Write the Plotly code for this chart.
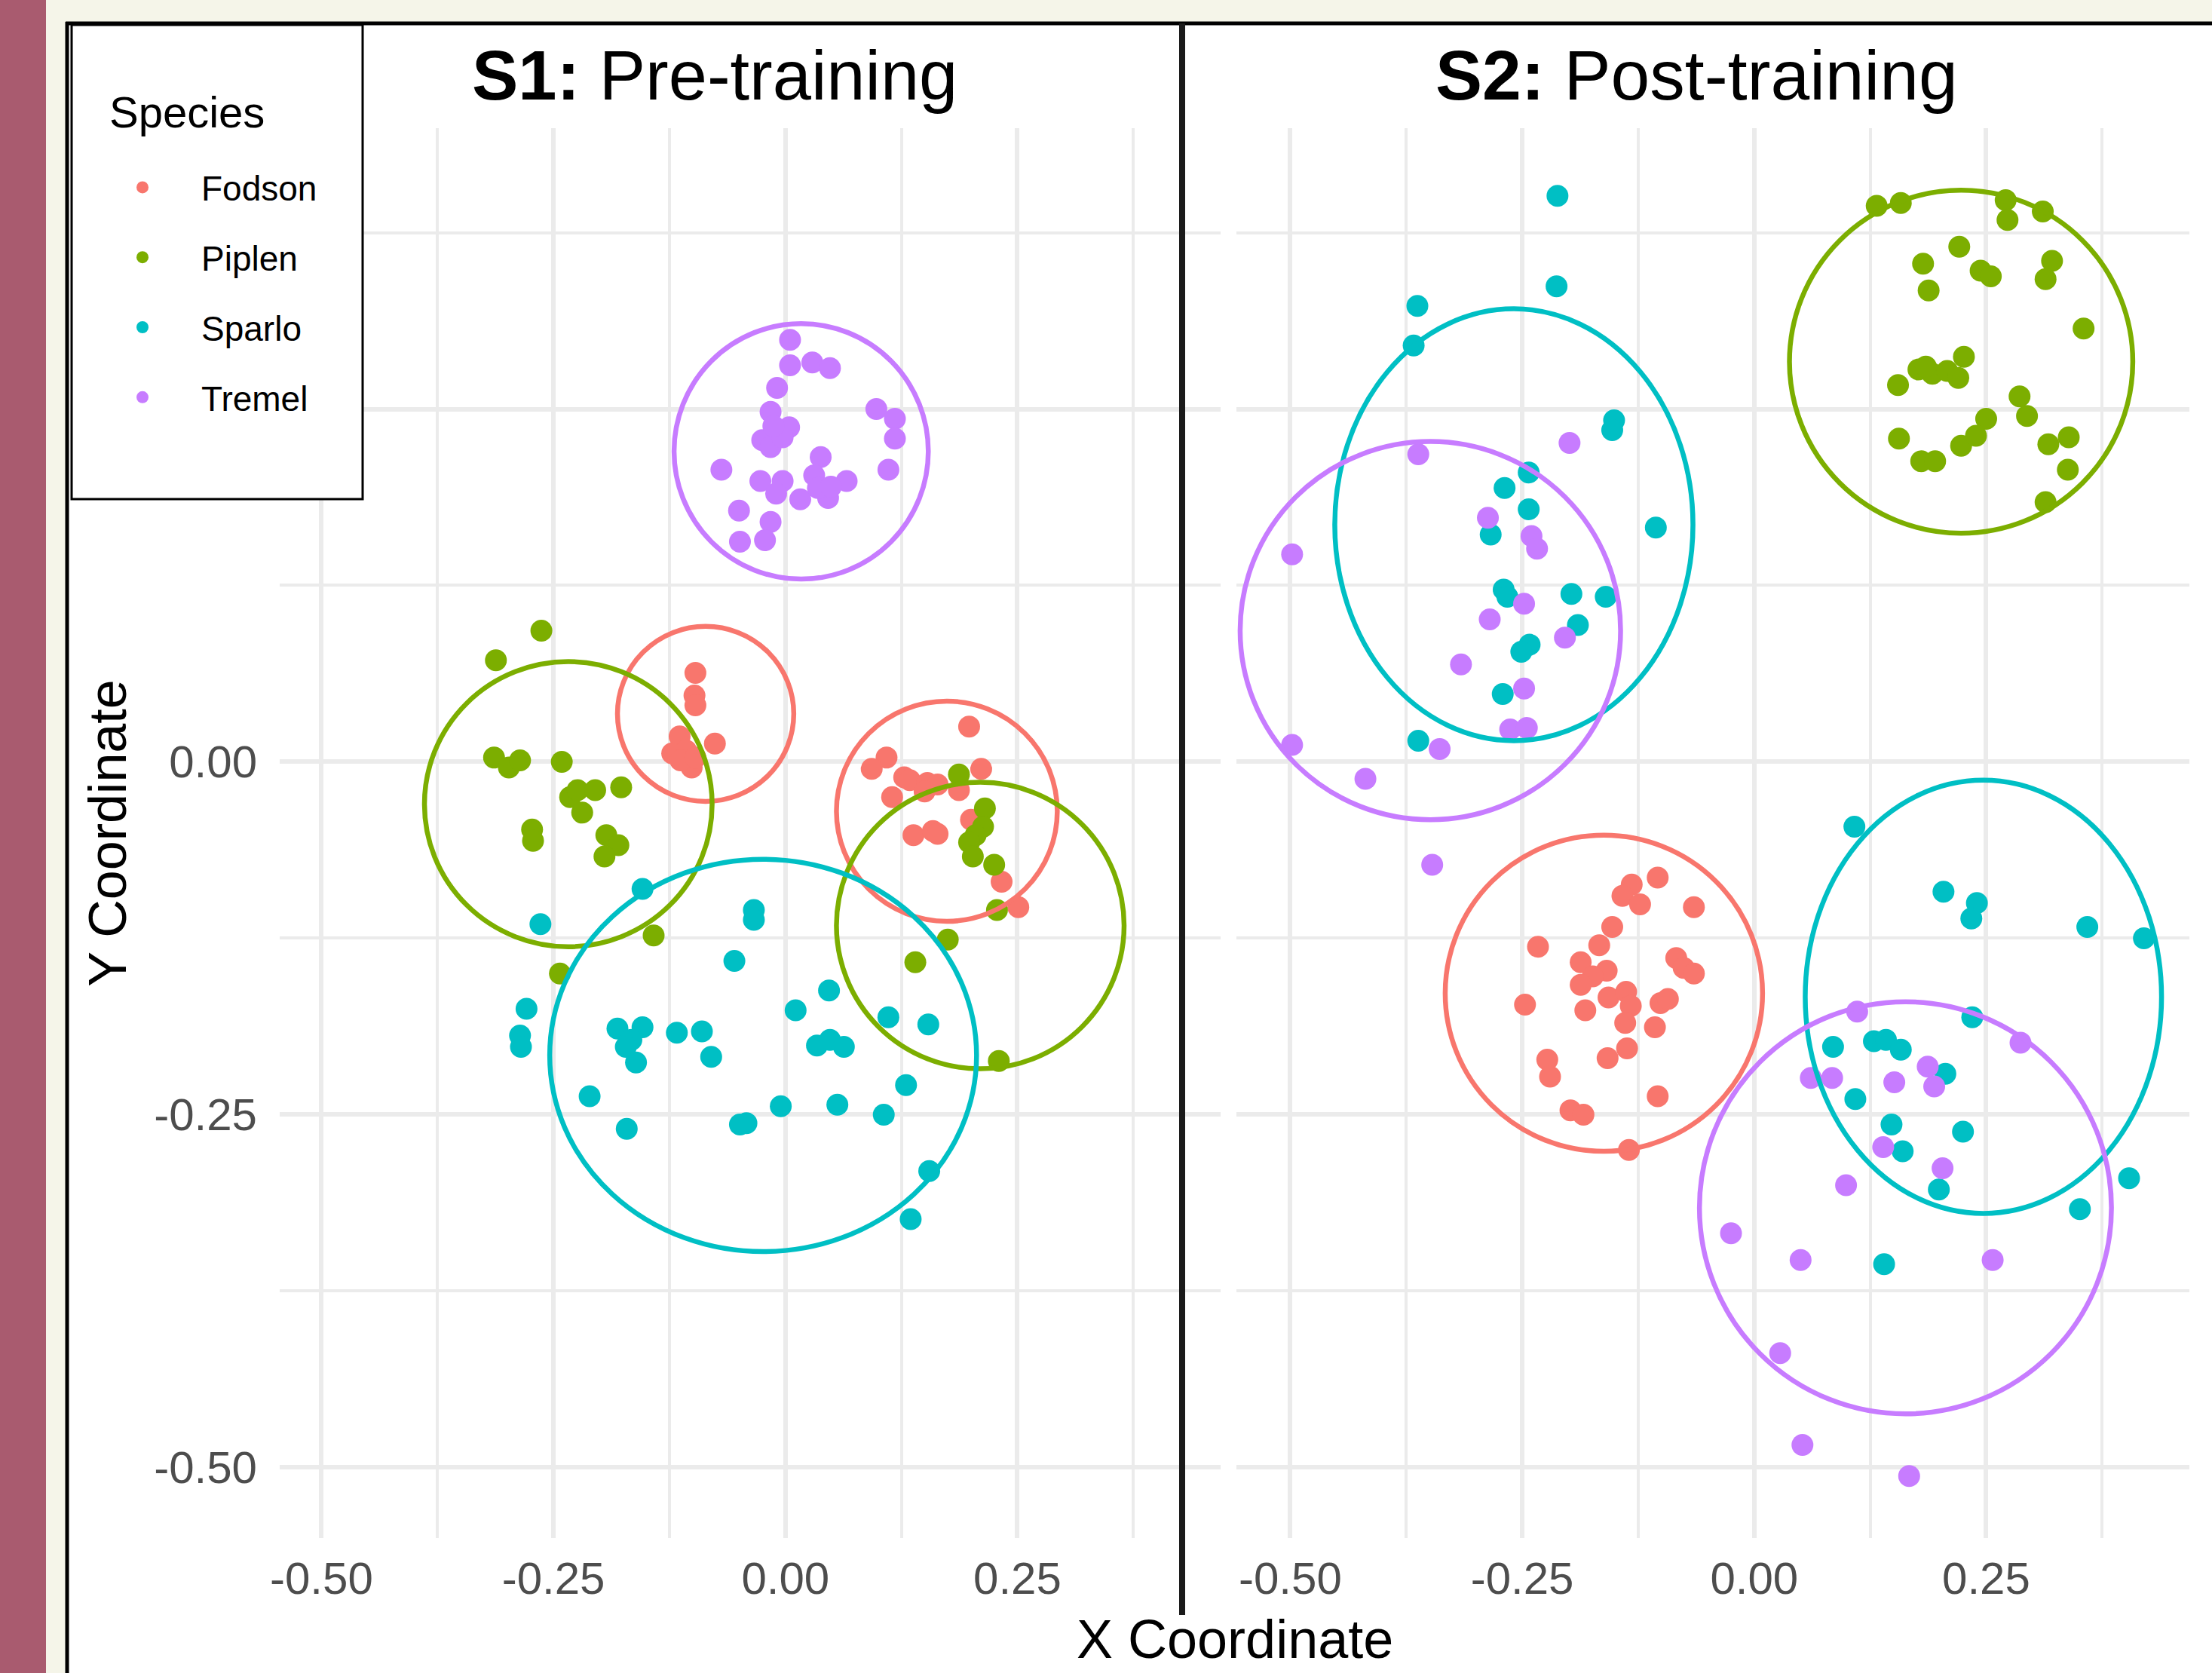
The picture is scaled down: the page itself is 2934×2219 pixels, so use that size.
import plotly.graph_objects as go

# ---------------- data ----------------
SPECIES = ["Fodson", "Piplen", "Sparlo", "Tremel"]
COLORS = ["#F8766D", "#7CAE00", "#00BFC4", "#C77CFF"]
TICK_VALS = [-0.5, -0.25, 0.0, 0.25]
TICK_TEXT = ["-0.50", "-0.25", "0.00", "0.25"]
Y_TICK_TEXT = ["-0.50", "-0.25", "0.00", ""]   # 0.25 label sits under the legend box
MINOR_VALS = [-0.375, -0.125, 0.125, 0.375]

# S1: Pre-training
s1_fodson_x = [-0.097, -0.098, -0.097, -0.076, -0.114, -0.122, -0.107, -0.101, -0.113, -0.097,
               0.198, 0.109, 0.093, 0.128, 0.134, 0.115, 0.153, 0.164, 0.150, 0.187, 0.211,
               0.138, 0.159, 0.164, 0.200, 0.233, 0.251]
s1_fodson_y = [0.063, 0.047, 0.040, 0.013, 0.018, 0.006, 0.008, -0.004, 0.001, 0.003,
               0.025, 0.003, -0.005, -0.011, -0.013, -0.025, -0.015, -0.016, -0.021, -0.020, -0.005,
               -0.052, -0.049, -0.051, -0.041, -0.085, -0.103]

s1_piplen_x = [-0.263, -0.312, -0.314, -0.298, -0.286, -0.241, -0.232, -0.224, -0.205, -0.177,
               -0.219, -0.273, -0.272, -0.193, -0.180, -0.195, -0.142, -0.243,
               0.187, 0.215, 0.213, 0.205, 0.198, 0.202, 0.225, 0.228, 0.175, 0.140, 0.230]
s1_piplen_y = [0.093, 0.072, 0.003, -0.004, 0.001, 0.000, -0.025, -0.020, -0.020, -0.018,
               -0.036, -0.048, -0.056, -0.052, -0.059, -0.067, -0.123, -0.150,
               -0.009, -0.033, -0.046, -0.052, -0.057, -0.067, -0.073, -0.105, -0.126, -0.142, -0.212]

s1_sparlo_x = [-0.154, -0.264, -0.034, -0.034, -0.055, -0.279, -0.286, -0.285, -0.181, -0.154,
               -0.166, -0.172, -0.161, -0.117, -0.090, -0.080, 0.011, 0.047, 0.034, 0.048,
               0.063, 0.111, 0.154, -0.211, -0.171, -0.049, -0.042, -0.005, 0.056, 0.106,
               0.130, 0.155, 0.135]
s1_sparlo_y = [-0.090, -0.115, -0.105, -0.112, -0.141, -0.175, -0.194, -0.202, -0.189, -0.188,
               -0.197, -0.202, -0.213, -0.192, -0.191, -0.209, -0.176, -0.162, -0.201, -0.197,
               -0.202, -0.181, -0.186, -0.237, -0.260, -0.257, -0.256, -0.244, -0.243, -0.250,
               -0.229, -0.290, -0.324]

s1_tremel_x = [0.005, 0.005, 0.029, 0.048, -0.009, -0.016, 0.004, -0.025, -0.016, -0.003,
               -0.013, 0.098, 0.118, 0.118, 0.111, -0.069, -0.027, -0.003, -0.010, 0.038,
               0.031, 0.066, 0.046, 0.016, 0.035, 0.049, -0.050, -0.016, -0.022, -0.049]
s1_tremel_y = [0.299, 0.281, 0.283, 0.279, 0.265, 0.248, 0.237, 0.228, 0.223, 0.230,
               0.238, 0.250, 0.243, 0.229, 0.207, 0.207, 0.199, 0.199, 0.190, 0.216,
               0.203, 0.199, 0.187, 0.186, 0.194, 0.195, 0.178, 0.170, 0.157, 0.156]

# S2: Post-training
s2_fodson_x = [-0.104, -0.132, -0.142, -0.123, -0.065, -0.153, -0.233, -0.167, -0.187, -0.159,
               -0.174, -0.187, -0.084, -0.076, -0.065, -0.247, -0.182, -0.157, -0.138, -0.133,
               -0.139, -0.101, -0.093, -0.107, -0.137, -0.158, -0.223, -0.220, -0.104, -0.198,
               -0.184, -0.135]
s2_fodson_y = [-0.082, -0.087, -0.095, -0.101, -0.103, -0.117, -0.131, -0.130, -0.142, -0.148,
               -0.152, -0.158, -0.139, -0.146, -0.150, -0.172, -0.176, -0.167, -0.163, -0.173,
               -0.185, -0.171, -0.168, -0.188, -0.203, -0.210, -0.211, -0.223, -0.237, -0.247,
               -0.250, -0.275]

s2_piplen_x = [0.132, 0.158, 0.271, 0.273, 0.311, 0.221, 0.182, 0.188, 0.244, 0.255,
               0.321, 0.314, 0.355, 0.155, 0.177, 0.192, 0.208, 0.226, 0.220, 0.185,
               0.286, 0.250, 0.294, 0.156, 0.180, 0.195, 0.223, 0.239, 0.317, 0.339,
               0.338, 0.314]
s2_piplen_y = [0.394, 0.396, 0.398, 0.384, 0.390, 0.365, 0.353, 0.334, 0.348, 0.344,
               0.355, 0.342, 0.307, 0.267, 0.278, 0.275, 0.277, 0.287, 0.272, 0.280,
               0.259, 0.243, 0.245, 0.229, 0.213, 0.213, 0.224, 0.231, 0.225, 0.230,
               0.207, 0.184]

s2_sparlo_x = [-0.212, -0.213, -0.363, -0.367, -0.151, -0.153, -0.243, -0.269, -0.243, -0.284,
               -0.106, -0.270, -0.266, -0.197, -0.160, -0.190, -0.242, -0.251, -0.271, -0.362,
               0.108, 0.204, 0.240, 0.234, 0.359, 0.420, 0.235, 0.085, 0.129, 0.142,
               0.158, 0.206, 0.109, 0.148, 0.225, 0.160, 0.199, 0.404, 0.351, 0.140]
s2_sparlo_y = [0.401, 0.337, 0.323, 0.295, 0.242, 0.235, 0.205, 0.194, 0.179, 0.161,
               0.166, 0.122, 0.117, 0.119, 0.117, 0.097, 0.083, 0.078, 0.048, 0.015,
               -0.046, -0.092, -0.100, -0.111, -0.117, -0.125, -0.181, -0.202, -0.198, -0.197,
               -0.204, -0.221, -0.239, -0.257, -0.262, -0.276, -0.303, -0.295, -0.317, -0.356]

s2_tremel_x = [-0.199, -0.362, -0.287, -0.498, -0.240, -0.234, -0.248, -0.285, -0.204, -0.316,
               -0.248, -0.263, -0.245, -0.498, -0.339, -0.419, -0.347,
               0.111, 0.287, 0.061, 0.084, 0.151, 0.187, 0.194, 0.139, 0.203, 0.099,
               -0.025, 0.050, 0.257, 0.028, 0.052, 0.167]
s2_tremel_y = [0.226, 0.218, 0.173, 0.147, 0.160, 0.151, 0.112, 0.101, 0.088, 0.069,
               0.052, 0.023, 0.024, 0.012, 0.009, -0.012, -0.073,
               -0.177, -0.199, -0.224, -0.224, -0.227, -0.216, -0.230, -0.273, -0.288, -0.300,
               -0.334, -0.353, -0.353, -0.419, -0.484, -0.506]

# cluster ellipses: session, species, centre and semi-axes in data units
ell_session = ["S1", "S1", "S1", "S1", "S1", "S1", "S2", "S2", "S2", "S2", "S2", "S2"]
ell_species = ["Tremel", "Fodson", "Piplen", "Fodson", "Piplen", "Sparlo",
               "Piplen", "Sparlo", "Tremel", "Fodson", "Sparlo", "Tremel"]
ell_cx = [0.017, -0.086, -0.234, 0.174, 0.210, -0.024, 0.223, -0.259, -0.349, -0.162, 0.247, 0.163]
ell_cy = [0.220, 0.034, -0.030, -0.035, -0.116, -0.208, 0.2835, 0.168, 0.093, -0.164, -0.1665, -0.316]
ell_rx = [0.137, 0.095, 0.155, 0.119, 0.155, 0.230, 0.185, 0.193, 0.205, 0.171, 0.192, 0.222]
ell_ry = [0.0905, 0.062, 0.101, 0.078, 0.1015, 0.139, 0.1215, 0.153, 0.134, 0.112, 0.1535, 0.146]

TITLES = ["<b>S1:</b> Pre-training", "<b>S2:</b> Post-training"]

# ---------------- layout geometry (pixels of the 2934x2219 canvas) ----------------
W, H = 2934, 2219
def px(x):
    return x / W
def py(y):
    return 1 - y / H

SCALE = 1248 / 1.014                     # pixels per data unit along x
XDOM1 = [px(371), px(1619)]
XDOM2 = [px(1640), px(2904)]
YDOM = [py(2040), py(170)]
XRANGE1 = [-0.545, 0.469]
XRANGE2 = [-0.545 - 16 / SCALE, 0.469]
YRANGE = [-0.550, 0.449]

FONT = "Liberation Sans, Arial, Helvetica, sans-serif"
GRID = "#EBEBEB"

fig = go.Figure()

data = {
    "S1": [(s1_fodson_x, s1_fodson_y), (s1_piplen_x, s1_piplen_y),
           (s1_sparlo_x, s1_sparlo_y), (s1_tremel_x, s1_tremel_y)],
    "S2": [(s2_fodson_x, s2_fodson_y), (s2_piplen_x, s2_piplen_y),
           (s2_sparlo_x, s2_sparlo_y), (s2_tremel_x, s2_tremel_y)],
}
for session, xa in (("S1", "x"), ("S2", "x2")):
    for i, sp in enumerate(SPECIES):
        xs, ys = data[session][i]
        fig.add_trace(go.Scatter(
            x=xs, y=ys, mode="markers", name=sp,
            legendgroup=sp, showlegend=(session == "S1"),
            marker=dict(color=COLORS[i], size=29, line=dict(width=0)),
            xaxis=xa, yaxis="y",
        ))

shapes = []
# background pieces
shapes.append(dict(type="rect", xref="paper", yref="paper", x0=0, x1=px(61), y0=0, y1=1,
                   fillcolor="#A95B6F", line=dict(width=0), layer="below"))
shapes.append(dict(type="rect", xref="paper", yref="paper", x0=px(89), x1=1, y0=0, y1=py(31),
                   fillcolor="white", line=dict(width=0), layer="below"))

# ellipses
for k in range(len(ell_cx)):
    xref = "x" if ell_session[k] == "S1" else "x2"
    col = COLORS[SPECIES.index(ell_species[k])]
    shapes.append(dict(type="circle", xref=xref, yref="y",
                       x0=ell_cx[k] - ell_rx[k], x1=ell_cx[k] + ell_rx[k],
                       y0=ell_cy[k] - ell_ry[k], y1=ell_cy[k] + ell_ry[k],
                       line=dict(color=col, width=6.5), layer="above"))

# frame lines + divider
shapes.append(dict(type="line", xref="paper", yref="paper", x0=px(87), x1=1, y0=py(31), y1=py(31),
                   line=dict(color="black", width=5), layer="above"))
shapes.append(dict(type="line", xref="paper", yref="paper", x0=px(89), x1=px(89), y0=0, y1=py(29),
                   line=dict(color="black", width=5), layer="above"))
shapes.append(dict(type="line", xref="paper", yref="paper", x0=px(1568), x1=px(1568),
                   y0=py(2142), y1=py(31), line=dict(color="#1a1a1a", width=8), layer="above"))
# legend box
shapes.append(dict(type="rect", xref="paper", yref="paper", x0=px(95), x1=px(481),
                   y0=py(662), y1=py(33), fillcolor="white",
                   line=dict(color="black", width=3), layer="above"))

annotations = [
    dict(text=TITLES[0], x=px(948), y=py(100), xref="paper", yref="paper",
         showarrow=False, xanchor="center", yanchor="middle",
         font=dict(size=92, color="black", family=FONT)),
    dict(text=TITLES[1], x=px(2250), y=py(100), xref="paper", yref="paper",
         showarrow=False, xanchor="center", yanchor="middle",
         font=dict(size=93, color="black", family=FONT)),
    dict(text="X Coordinate", x=(XDOM1[0] + XDOM2[1]) / 2, y=py(2174), xref="paper", yref="paper",
         showarrow=False, xanchor="center", yanchor="middle",
         font=dict(size=72, color="black", family=FONT)),
    dict(text="Species", x=px(143), y=py(148), xref="paper", yref="paper",
         showarrow=False, xanchor="left", yanchor="middle",
         font=dict(size=58, color="black", family=FONT)),
]

tickfont = dict(size=60, color="#4D4D4D", family=FONT)
minor = dict(tickvals=MINOR_VALS, showgrid=True, gridcolor=GRID, gridwidth=3.5, ticks="")
xcommon = dict(tickvals=TICK_VALS, ticktext=TICK_TEXT, showgrid=True, gridcolor=GRID,
               gridwidth=6, zeroline=False, showline=False, ticks="", tickfont=tickfont,
               ticklabelstandoff=13, minor=minor, fixedrange=True, automargin=False)

fig.update_layout(
    width=W, height=H, autosize=False,
    margin=dict(l=0, r=0, t=0, b=0, pad=0, autoexpand=False),
    paper_bgcolor="#F5F5E9", plot_bgcolor="white",
    font=dict(family=FONT, color="black"),
    xaxis=dict(domain=XDOM1, anchor="y", range=XRANGE1, **xcommon),
    xaxis2=dict(domain=XDOM2, anchor="y", range=XRANGE2, **xcommon),
    yaxis=dict(domain=YDOM, anchor="x", range=YRANGE, tickvals=TICK_VALS, ticktext=Y_TICK_TEXT,
               showgrid=True, gridcolor=GRID, gridwidth=6, zeroline=False, showline=False,
               ticks="", tickfont=tickfont, ticklabelstandoff=29, minor=minor,
               title=dict(text="Y Coordinate", font=dict(size=70, color="black", family=FONT),
                          standoff=13),
               fixedrange=True, automargin=False),
    showlegend=True,
    legend=dict(
        x=px(111), y=py(212), xanchor="left", yanchor="top",
        bgcolor="rgba(0,0,0,0)", borderwidth=0,
        font=dict(size=46, color="black", family=FONT),
        itemwidth=146, tracegroupgap=30, itemsizing="trace",
    ),
    shapes=shapes,
    annotations=annotations,
)

fig.write_html(
    "out.html",
    config={"displayModeBar": False, "responsive": False},
    post_script=(
        "document.documentElement.style.margin='0';"
        "document.body.style.margin='0';document.body.style.padding='0';"
        "document.documentElement.style.overflow='hidden';"
        "document.body.style.background='#F5F5E9';"
        "var gd=document.getElementById('{plot_id}');"
        "gd.style.position='fixed';gd.style.left='0px';gd.style.top='0px';"
    ),
)
